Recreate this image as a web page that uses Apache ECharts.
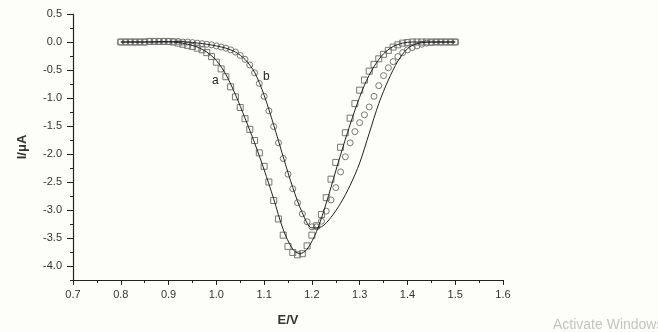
<!DOCTYPE html>
<html>
<head>
<meta charset="utf-8">
<script src="https://cdn.jsdelivr.net/npm/echarts@6/dist/echarts.min.js"></script>
<style>
    html, body { margin: 0; padding: 0; background: #fdfdf9; }
    #chart { width: 658px; height: 332px; }
</style>
</head>
<body>
<div id="chart"></div>
<script>
// potential (V) for the measured points
var potential = [0.80, 0.81, 0.82, 0.83, 0.84, 0.85, 0.86, 0.87, 0.88, 0.89,
    0.90, 0.91, 0.92, 0.93, 0.94, 0.95, 0.96, 0.97, 0.98, 0.99,
    1.00, 1.01, 1.02, 1.03, 1.04, 1.05, 1.06, 1.07, 1.08, 1.09,
    1.10, 1.11, 1.12, 1.13, 1.14, 1.15, 1.16, 1.17, 1.18, 1.19,
    1.20, 1.21, 1.22, 1.23, 1.24, 1.25, 1.26, 1.27, 1.28, 1.29,
    1.30, 1.31, 1.32, 1.33, 1.34, 1.35, 1.36, 1.37, 1.38, 1.39,
    1.40, 1.41, 1.42, 1.43, 1.44, 1.45, 1.46, 1.47, 1.48, 1.49, 1.50];

// curve a (squares)
var currentA = [0, 0, 0, 0, 0, 0, 0.01, 0.01, 0.01, 0.01,
    0.01, 0, -0.02, -0.04, -0.06, -0.08, -0.11, -0.14, -0.19, -0.26,
    -0.36, -0.48, -0.62, -0.80, -0.98, -1.17, -1.37, -1.56, -1.76, -1.98,
    -2.22, -2.50, -2.83, -3.16, -3.45, -3.65, -3.76, -3.80, -3.78, -3.64,
    -3.45, -3.28, -3.08, -2.78, -2.45, -2.15, -1.88, -1.62, -1.36, -1.10,
    -0.86, -0.68, -0.52, -0.40, -0.30, -0.22, -0.15, -0.09, -0.05, -0.02,
    -0.01, 0, 0, 0, 0, 0, 0, 0, 0, 0, 0];

// curve b (circles)
var currentB = [0, 0, 0, 0, 0, 0, 0.01, 0.01, 0.01, 0.01,
    0.01, 0.01, 0.01, 0, 0, -0.01, -0.02, -0.03, -0.04, -0.05,
    -0.07, -0.09, -0.11, -0.14, -0.18, -0.24, -0.31, -0.41, -0.55, -0.74,
    -0.97, -1.23, -1.51, -1.80, -2.08, -2.36, -2.62, -2.87, -3.07, -3.21,
    -3.30, -3.30, -3.20, -3.02, -2.82, -2.60, -2.32, -2.05, -1.80, -1.60,
    -1.44, -1.30, -1.16, -0.97, -0.78, -0.60, -0.46, -0.35, -0.26, -0.19,
    -0.14, -0.10, -0.07, -0.04, -0.02, -0.01, 0, 0, 0, 0, 0];

// fitted lines
var fitAx = [0.80, 0.85, 0.90, 0.92, 0.94, 0.96, 0.98, 1.00, 1.02, 1.04, 1.06, 1.08, 1.10, 1.12, 1.14, 1.16,
    1.175, 1.19, 1.21, 1.23, 1.25, 1.27, 1.29, 1.31, 1.33, 1.35, 1.37, 1.39, 1.41, 1.45, 1.50];
var fitAy = [0, 0, 0, -0.01, -0.04, -0.09, -0.18, -0.33, -0.58, -0.94, -1.36, -1.80, -2.28, -2.80, -3.35, -3.70,
    -3.78, -3.70, -3.38, -2.88, -2.30, -1.74, -1.22, -0.77, -0.44, -0.21, -0.08, -0.02, 0, 0, 0];
var fitBx = [0.80, 0.85, 0.90, 0.94, 0.98, 1.00, 1.02, 1.04, 1.06, 1.08, 1.10, 1.12, 1.14, 1.16, 1.18,
    1.20, 1.22, 1.24, 1.26, 1.28, 1.30, 1.32, 1.34, 1.36, 1.38, 1.40, 1.42, 1.45, 1.50];
var fitBy = [0, 0, 0.01, 0, -0.04, -0.07, -0.11, -0.18, -0.31, -0.54, -0.95, -1.48, -2.05, -2.60, -3.05,
    -3.32, -3.30, -3.13, -2.88, -2.56, -2.16, -1.63, -1.10, -0.68, -0.34, -0.12, -0.03, 0, 0];

var yMajor = [-4.0, -3.5, -3.0, -2.5, -2.0, -1.5, -1.0, -0.5, 0.0, 0.5];

function pairs(xs, ys) {
    var out = [];
    for (var i = 0; i < xs.length; i++) {
        out.push([xs[i], ys[i]]);
    }
    return out;
}

var myChart = echarts.init(document.getElementById('chart'));
var axisColor = '#222';
var font = 'Liberation Sans, Arial, sans-serif';
var labelStyle = { color: '#333', fontSize: 11, fontFamily: font };

option = {
    backgroundColor: '#fdfdf9',
    animation: false,
    grid: { left: 73, right: 155, top: 14, bottom: 50 },
    xAxis: {
        type: 'value',
        min: 0.7,
        max: 1.6,
        interval: 0.1,
        name: 'E/V',
        nameLocation: 'middle',
        nameGap: 34,
        nameTextStyle: { fontWeight: 'bold', fontSize: 13, color: '#333', fontFamily: font },
        axisLine: { onZero: false, lineStyle: { color: axisColor, width: 1.2 } },
        axisTick: { length: 5, lineStyle: { color: axisColor } },
        minorTick: { show: true, splitNumber: 2, length: 3, lineStyle: { color: axisColor } },
        axisLabel: Object.assign({ margin: 9, formatter: function (v) { return v.toFixed(1); } }, labelStyle),
        splitLine: { show: false }
    },
    yAxis: [
        {
            type: 'value',
            min: -4.25,
            max: 0.5,
            interval: 0.25,
            name: 'I/μA',
            nameLocation: 'middle',
            nameGap: 44,
            nameTextStyle: { fontWeight: 'bold', fontSize: 13, color: '#333', fontFamily: font },
            axisLine: { onZero: false, lineStyle: { color: axisColor, width: 1.2 } },
            axisTick: { length: 6, customValues: yMajor, lineStyle: { color: axisColor } },
            axisLabel: Object.assign({ margin: 11, customValues: yMajor, formatter: function (v) { return v.toFixed(1); } }, labelStyle),
            splitLine: { show: false }
        },
        {
            // minor ticks every 0.25
            type: 'value',
            position: 'left',
            min: -4.25,
            max: 0.5,
            interval: 0.25,
            axisLine: { show: false },
            axisTick: { length: 3, lineStyle: { color: axisColor } },
            axisLabel: { show: false },
            splitLine: { show: false }
        }
    ],
    graphic: [
        { type: 'text', left: 212, top: 75, style: { text: 'a', fontSize: 12, fill: '#222', fontFamily: font } },
        { type: 'text', left: 263, top: 71, style: { text: 'b', fontSize: 12, fill: '#222', fontFamily: font } },
        { type: 'text', left: 553, top: 318, style: { text: 'Activate Windows', fontSize: 14, fill: '#c4c4c4', fontFamily: font } }
    ],
    series: [
        {
            name: 'a',
            type: 'line',
            data: pairs(potential, currentA),
            symbol: 'rect',
            symbolSize: 6,
            showAllSymbol: true,
            lineStyle: { width: 0 },
            itemStyle: { color: 'transparent', borderColor: '#777', borderWidth: 1 },
            z: 2
        },
        {
            name: 'b',
            type: 'line',
            data: pairs(potential, currentB),
            symbol: 'circle',
            symbolSize: 6,
            showAllSymbol: true,
            lineStyle: { width: 0 },
            itemStyle: { color: 'transparent', borderColor: '#777', borderWidth: 1 },
            z: 2
        },
        {
            name: 'fit a',
            type: 'line',
            data: pairs(fitAx, fitAy),
            smooth: 0.3,
            symbol: 'none',
            lineStyle: { color: '#222', width: 1 },
            z: 3
        },
        {
            name: 'fit b',
            type: 'line',
            data: pairs(fitBx, fitBy),
            smooth: 0.3,
            symbol: 'none',
            lineStyle: { color: '#222', width: 1 },
            z: 3
        }
    ]
};

myChart.setOption(option);
window.addEventListener('resize', function () { myChart.resize(); })
</script>
</body>
</html>
